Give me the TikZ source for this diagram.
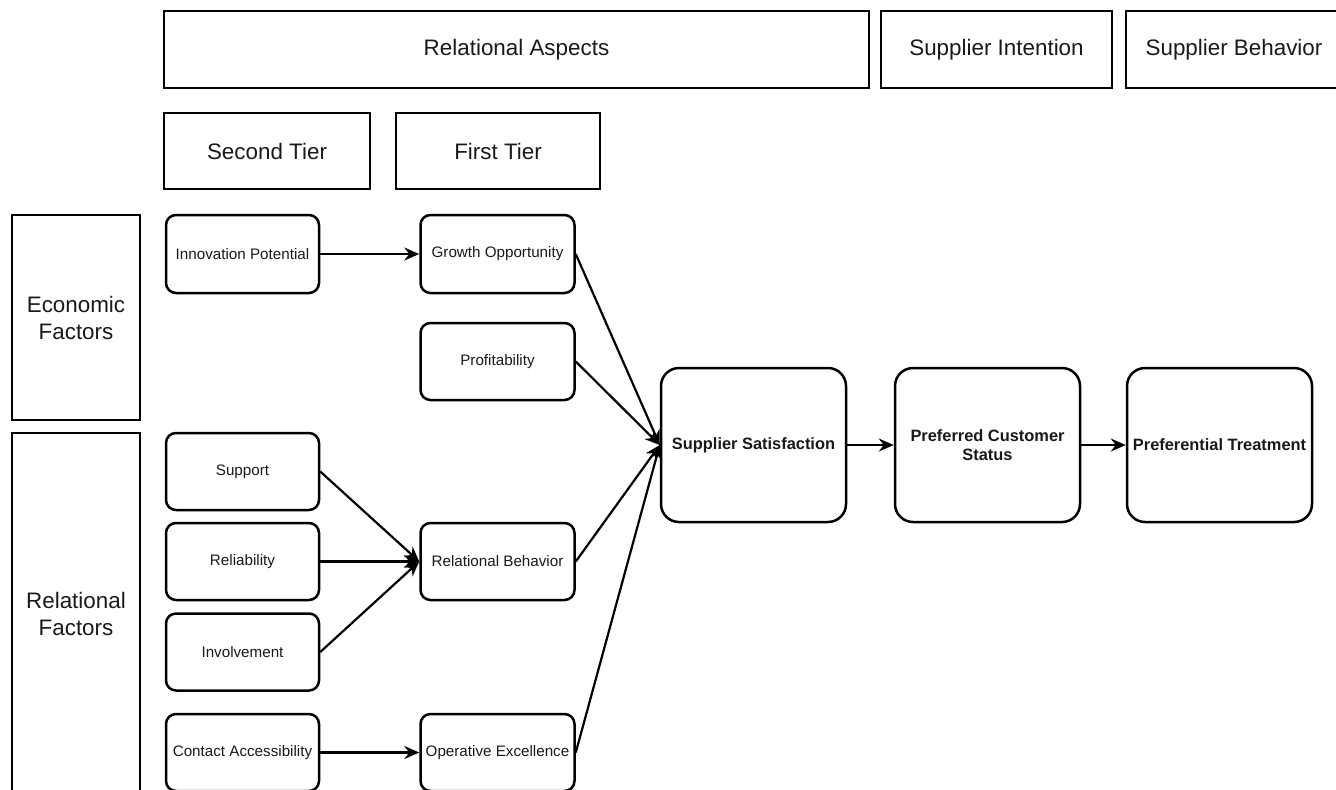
\documentclass[tikz,border=0pt]{standalone}
\usepackage{fontspec}
\setmainfont{Liberation Sans}
\usetikzlibrary{arrows.meta}
\begin{document}
\begin{tikzpicture}[x=0.5pt,y=-0.5pt,
  box/.style={draw=black,line width=1.25pt,inner sep=0pt,align=center,text=black!90},
  hdr/.style={box,font=\fontsize{11.2}{13.5}\selectfont},
  small/.style={box,rounded corners=5pt,minimum width=77pt,minimum height=38.5pt,font=\fontsize{7.6}{9}\selectfont},
  big/.style={box,rounded corners=9pt,minimum width=92.5pt,minimum height=77pt,font=\bfseries\fontsize{8.2}{9.6}\selectfont},
  conn/.style={draw=black,line width=1.1pt,-{Stealth[length=7.5pt,width=6.5pt,inset=2.5pt]}}]
\useasboundingbox (0,0) rectangle (1336,789);
% header boxes
\node[hdr,minimum width=352.5pt,minimum height=38.5pt] (ra) at (516.5,49.5) {Relational Aspects};
\node[hdr,minimum width=115.5pt,minimum height=38.5pt] (si) at (996.5,49.5) {Supplier Intention};
\node[hdr,minimum width=108pt,minimum height=38.5pt] (sb) at (1234,49.5) {Supplier Behavior};
\node[hdr,minimum width=103pt,minimum height=38pt] (st) at (267,151) {Second Tier};
\node[hdr,minimum width=102pt,minimum height=38pt] (ft) at (498,151) {First Tier};
\node[hdr,minimum width=64pt,minimum height=102.5pt] (ef) at (76,317.5) {Economic\\Factors};
\node[hdr,minimum width=64pt,minimum height=180.5pt] (rf) at (76,613.5) {Relational\\Factors};
% second tier
\node[small,minimum width=76.5pt,minimum height=39pt] (ip) at (242.5,254) {Innovation Potential};
\node[small,minimum width=76.5pt] (su) at (242.5,471.5) {Support};
\node[small,minimum width=76.5pt] (re) at (242.5,561.5) {Reliability};
\node[small,minimum width=76.5pt] (iv) at (242.5,652) {Involvement};
\node[small,minimum width=76.5pt] (ca) at (242.5,752.5) {Contact Accessibility};
% first tier
\node[small,minimum height=39pt] (go) at (497.5,254) {Growth Opportunity};
\node[small] (pr) at (497.5,361.5) {Profitability};
\node[small] (rb) at (497.5,561.5) {Relational Behavior};
\node[small] (oe) at (497.5,752.5) {Operative Excellence};
% outcome boxes
\node[big] (ss) at (753.5,445) {Supplier Satisfaction};
\node[big] (pcs) at (987.5,445) {Preferred Customer\\Status};
\node[big] (pt) at (1219.5,445) {Preferential Treatment};
% connectors
\draw[conn] (ip.east) -- (go.west);
\draw[conn] (su.east) -- (rb.west);
\draw[conn] (re.east) -- (rb.west);
\draw[conn] (iv.east) -- (rb.west);
\draw[conn] (ca.east) -- (oe.west);
\draw[conn] (go.east) -- (ss.west);
\draw[conn] (pr.east) -- (ss.west);
\draw[conn] (rb.east) -- (ss.west);
\draw[conn] (oe.east) -- (ss.west);
\draw[conn] (ss.east) -- (pcs.west);
\draw[conn] (pcs.east) -- (pt.west);
\end{tikzpicture}
\end{document}
